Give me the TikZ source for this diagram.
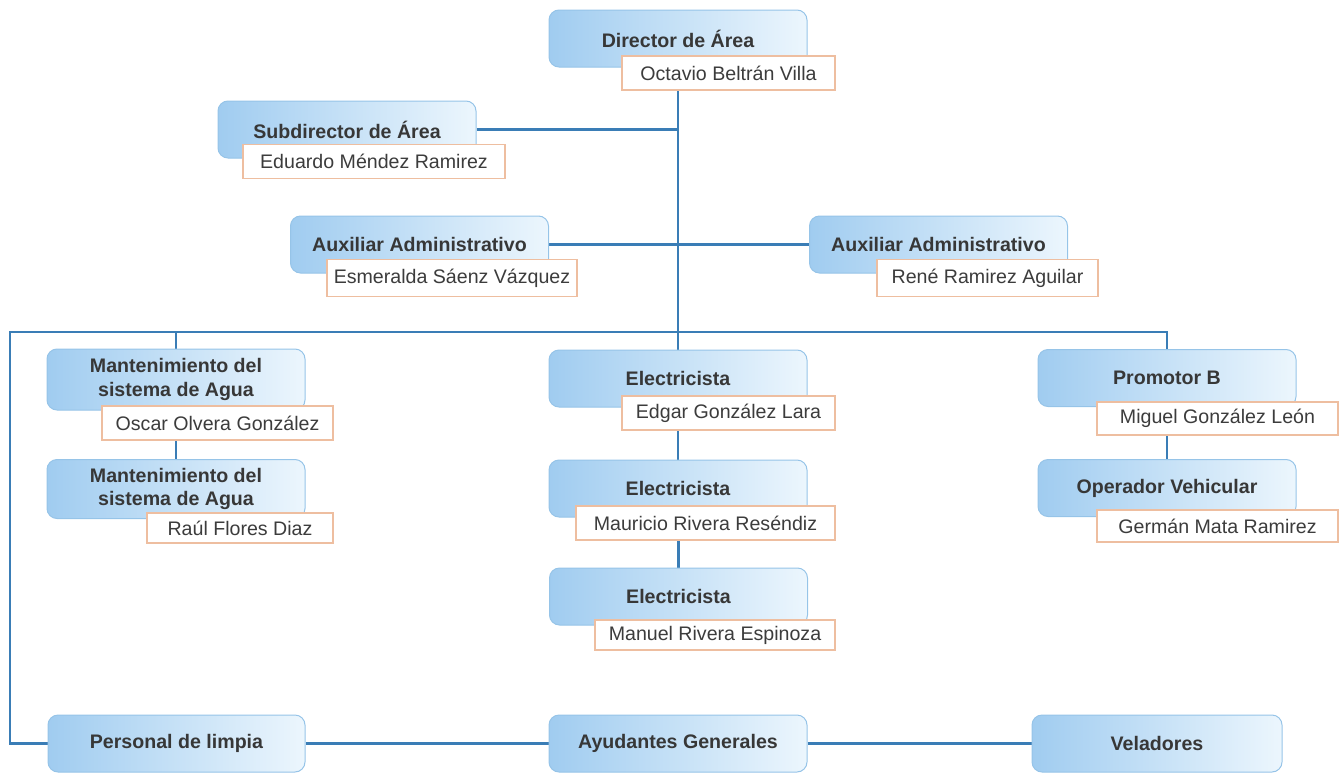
\documentclass[tikz,border=0pt]{standalone}
\usepackage{fontspec}
\setmainfont{Liberation Sans}
\usetikzlibrary{backgrounds}
\definecolor{boxL}{RGB}{160,204,240}
\definecolor{boxR}{RGB}{236,246,253}
\definecolor{boxD}{RGB}{150,196,232}
\definecolor{nameD}{RGB}{238,190,160}
\definecolor{titlec}{RGB}{55,55,55}
\definecolor{namec}{RGB}{60,60,60}
\definecolor{linec}{RGB}{58,125,182}
\begin{document}
\begin{tikzpicture}[x=0.5pt,y=-0.5pt,
  bbox/.style={rounded corners=5pt, draw=boxD, line width=0.5pt, left color=boxL, right color=boxR,
    minimum width=129pt, minimum height=28.5pt, inner sep=0pt, align=center,
    font=\fontsize{9.8}{11.6}\selectfont\bfseries, text=titlec},
  nbox/.style={draw=nameD, fill=white, line width=0.6pt, minimum height=17pt, inner sep=0pt,
    font=\fontsize{9.8}{11.6}\selectfont, text=namec},
  conn/.style={draw=linec, line width=1.3pt}]
\useasboundingbox (0,0) rectangle (1344,776);
% blue boxes
\node[bbox] (dir) at (678,38.5) {Director de Área};
\node[bbox] (sub) at (347,129.5) {Subdirector de Área};
\node[bbox] (auxl) at (419.5,244.5) {Auxiliar Administrativo};
\node[bbox] (auxr) at (938.5,244.5) {Auxiliar Administrativo};
\node[bbox, minimum height=30.5pt] (man1) at (176,379.5) {Mantenimiento del\\sistema de Agua};
\node[bbox, minimum height=29.5pt] (man2) at (176,489) {Mantenimiento del\\sistema de Agua};
\node[bbox] (ele1) at (678,378.5) {Electricista};
\node[bbox] (ele2) at (678,488.5) {Electricista};
\node[bbox] (ele3) at (678.5,596.5) {Electricista};
\node[bbox] (pro) at (1167,378) {Promotor B};
\node[bbox] (ope) at (1167,488) {Operador Vehicular};
\node[bbox, minimum width=128.5pt] (per) at (176.5,743.5) {Personal de limpia};
\node[bbox] (ayu) at (678,743.5) {Ayudantes Generales};
\node[bbox, minimum width=125pt] (vel) at (1157,743.5) {Veladores};
% name boxes
\node[nbox, minimum width=106.5pt] (dirn) at (728.5,73) {Octavio Beltrán Villa};
\node[nbox, minimum width=131pt] (subn) at (374,161.5) {Eduardo Méndez Ramirez};
\node[nbox, minimum width=125pt, minimum height=18.5pt] (auxln) at (452,278) {Esmeralda Sáenz Vázquez};
\node[nbox, minimum width=110.5pt, minimum height=18.5pt] (auxrn) at (987.5,278) {René Ramirez Aguilar};
\node[nbox, minimum width=115.5pt] (man1n) at (217.5,423) {Oscar Olvera González};
\node[nbox, minimum width=93pt, minimum height=15pt] (man2n) at (240,528) {Raúl Flores Diaz};
\node[nbox, minimum width=106.5pt] (ele1n) at (728.5,413) {Edgar González Lara};
\node[nbox, minimum width=129.5pt] (ele2n) at (705.5,523) {Mauricio Rivera Reséndiz};
\node[nbox, minimum width=120pt, minimum height=15pt] (ele3n) at (715,635) {Manuel Rivera Espinoza};
\node[nbox, minimum width=120.5pt, minimum height=16.5pt] (pron) at (1217.5,418.5) {Miguel González León};
\node[nbox, minimum width=120.5pt, minimum height=16pt] (open) at (1217.5,526) {Germán Mata Ramirez};
% connectors
\coordinate (bl) at (10,332);
\coordinate (bm) at (678,332);
\coordinate (br) at (pro.north |- bl);
\begin{scope}[on background layer]
\draw[conn] (dirn.south -| dir.south) -- (bm);
\draw[conn] (sub.east) -- (sub.east -| dir.south);
\draw[conn] (auxl.east) -- (auxr.west);
\draw[conn] (per.west) -| (bl) -- (br) -- (pro.north);
\draw[conn] (man1.north) -- (man1.north |- bl);
\draw[conn] (ele1.north) -- (bm);
\draw[conn] (man2.north) -- (man2.north |- man1n.south);
\draw[conn] (ele2.north) -- (ele2.north |- ele1n.south);
\draw[conn] (ele3.north) -- (ele3.north |- ele2n.south);
\draw[conn] (ope.north) -- (ope.north |- pron.south);
\draw[conn] (per.east) -- (ayu.west);
\draw[conn] (ayu.east) -- (vel.west);
\end{scope}
\end{tikzpicture}
\end{document}
